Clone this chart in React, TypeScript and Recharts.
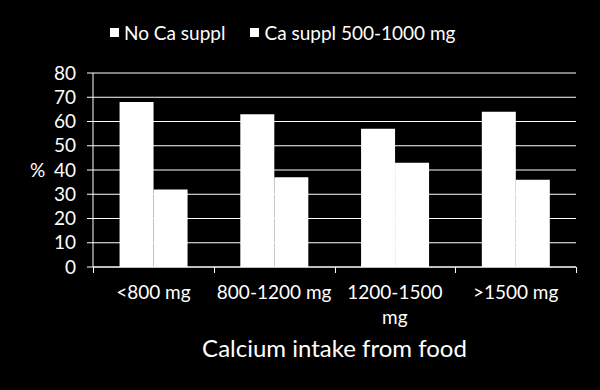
import { Bar, BarChart, CartesianGrid, Label, Legend, XAxis, YAxis } from "recharts";

const categories = ["<800 mg", "800-1200 mg", "1200-1500 mg", ">1500 mg"];
const noSuppl = [68, 63, 57, 64];
const withSuppl = [32, 37, 43, 36];
const yTicks = [0, 10, 20, 30, 40, 50, 60, 70, 80];
const seriesNames = ["No Ca suppl", "Ca suppl 500-1000 mg"];

const data = categories.map((name, i) => ({ name, none: noSuppl[i], suppl: withSuppl[i] }));

const W = 600;
const H = 390;
const AXIS_W = 93;
const RIGHT = 24;
const XAXIS_H = 123;
const FONT = "Lato, 'Open Sans', sans-serif";
const band = (W - AXIS_W - RIGHT) / categories.length;

function CategoryTick(props: any) {
  const { x, y, payload, index } = props;
  const label: string = payload.value;
  // Excel wrapped the long label onto two lines
  const lines = label.length > 11 ? [label.slice(0, label.lastIndexOf(" ")), label.slice(label.lastIndexOf(" ") + 1)] : [label];
  const left = Math.round(x - band / 2) + 0.5;
  const right = Math.round(x + band / 2) + 0.5;
  return (
    <g>
      <line x1={left} x2={left} y1={y} y2={y + 6} stroke="#fff" strokeWidth={1} />
      {index === categories.length - 1 && <line x1={right} x2={right} y1={y} y2={y + 6} stroke="#fff" strokeWidth={1} />}
      {lines.map((ln, i) => (
        <text key={i} x={x} y={y + 32 + i * 25} textAnchor="middle" fill="#fff" fontSize={19} fontFamily={FONT}>
          {ln}
        </text>
      ))}
    </g>
  );
}

function LegendBox() {
  return (
    <div style={{ display: "flex", alignItems: "center", paddingLeft: 110, height: 26, fontFamily: FONT, fontSize: 19, color: "#fff" }}>
      {seriesNames.map((n) => (
        <div key={n} style={{ display: "flex", alignItems: "center", marginRight: 25 }}>
          <span style={{ display: "inline-block", width: 9, height: 9, background: "#fff", marginRight: 5 }} />
          <span>{n}</span>
        </div>
      ))}
    </div>
  );
}

export default function App() {
  return (
    <div style={{ position: "absolute", left: 0, top: 0, width: W, height: H, background: "#000" }}>
      <BarChart
        width={W}
        height={H}
        data={data}
        margin={{ top: 47, right: RIGHT, bottom: 0, left: 0 }}
        barCategoryGap="22%"
        barGap={0}
      >
        <Legend verticalAlign="top" content={<LegendBox />} wrapperStyle={{ top: 19, left: 0, width: W }} />
        <CartesianGrid horizontal vertical={false} stroke="#fff" strokeWidth={1} />
        <XAxis
          dataKey="name"
          height={XAXIS_H}
          axisLine={{ stroke: "#fff" }}
          tickLine={false}
          tickSize={0}
          tickMargin={0}
          interval={0}
          tick={<CategoryTick />}
        >
          <Label value="Calcium intake from food" position="insideBottom" offset={33} fill="#fff" fontSize={24} fontFamily={FONT} />
        </XAxis>
        <YAxis
          width={AXIS_W}
          domain={[0, 80]}
          ticks={yTicks}
          interval={0}
          axisLine={{ stroke: "#fff" }}
          tickLine={{ stroke: "#fff" }}
          tickSize={6}
          tickMargin={11}
          tick={{ fill: "#fff", fontSize: 19, fontFamily: FONT }}
        >
          <Label value="%" position="insideLeft" offset={30} fill="#fff" fontSize={19} fontFamily={FONT} />
        </YAxis>
        <Bar dataKey="none" name={seriesNames[0]} fill="#fff" isAnimationActive={false} />
        <Bar dataKey="suppl" name={seriesNames[1]} fill="#fff" isAnimationActive={false} />
      </BarChart>
    </div>
  );
}
